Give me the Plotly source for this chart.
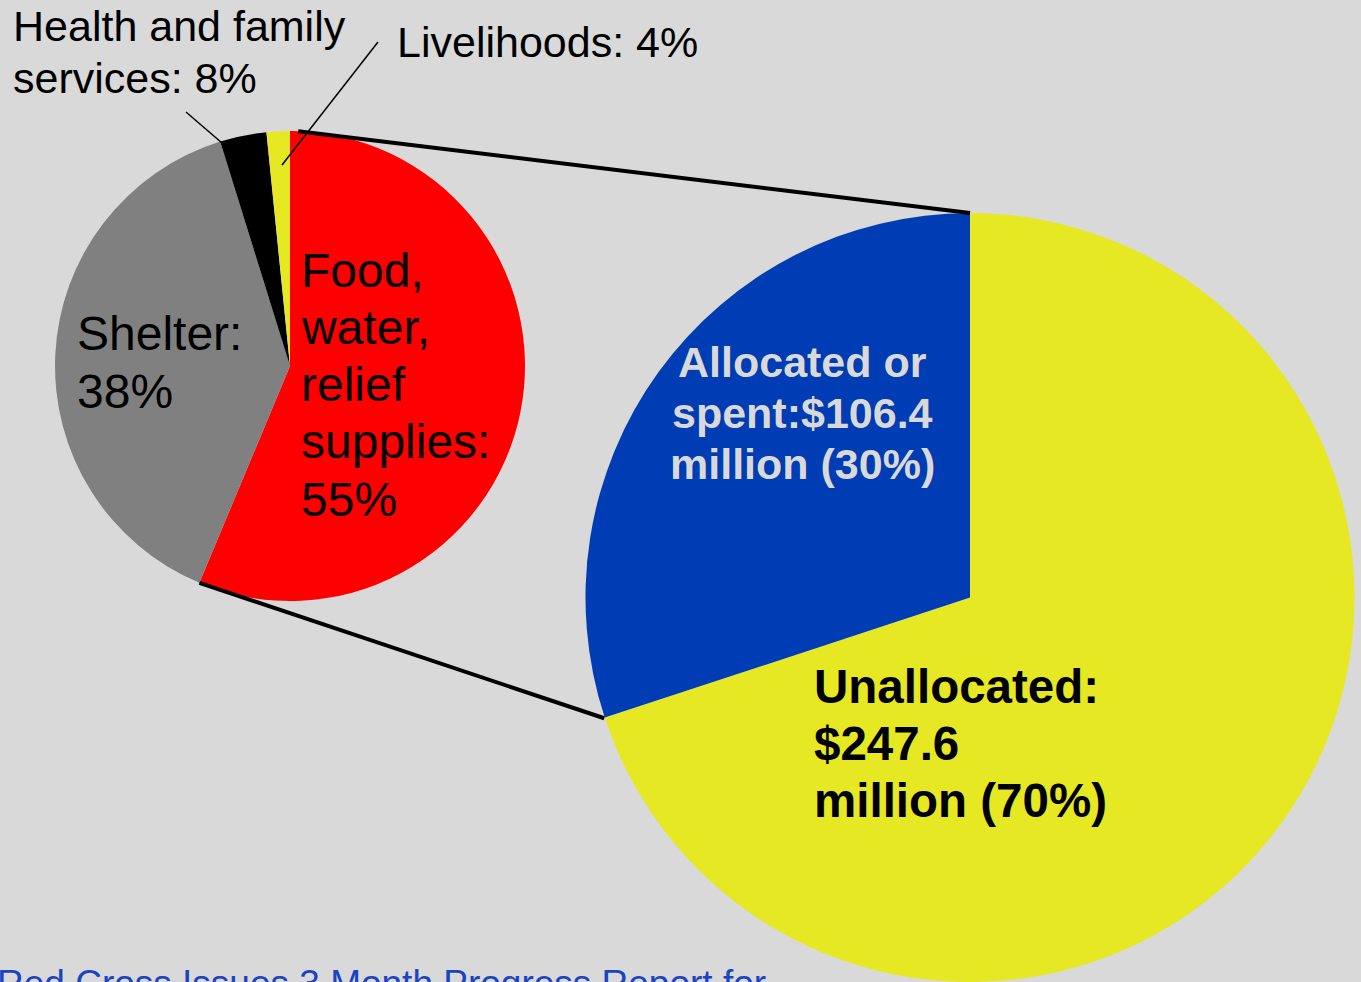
import math
import plotly.graph_objects as go

# ---------------- data ----------------
small_labels = ["Food, water, relief supplies", "Shelter", "Health and family services", "Livelihoods"]
small_values = [56.3, 38.9, 3.2, 1.6]          # slice sizes as drawn
small_label_pct = [55, 38, 8, 4]                # percentages printed in labels
small_colors = ["#ff0000", "#808080", "#000000", "#e5e822"]

big_labels = ["Unallocated", "Allocated or spent"]
big_values = [247.6, 106.4]                     # $ million
big_label_pct = [70, 30]
big_colors = ["#e5e822", "#003cb3"]

food_lines = ["Food,", "water,", "relief", "supplies:", f"{small_label_pct[0]}%"]
shelter_lines = ["Shelter:", f"{small_label_pct[1]}%"]
health_lines = ["Health and family", f"services: {small_label_pct[2]}%"]
liveli_lines = [f"Livelihoods: {small_label_pct[3]}%"]
alloc_lines = ["Allocated or", f"spent:${big_values[1]}", f"million ({big_label_pct[1]}%)"]
unalloc_lines = ["Unallocated:", f"${big_values[0]}", f"million ({big_label_pct[0]}%)"]
footer_text = "Red Cross Issues 3 Month Progress Report for"

# ---------------- layout helpers ----------------
W, H = 1361, 982
FONT = "Liberation Sans, Arial, sans-serif"


def px(x):
    return x / W


def py(y):
    return 1 - y / H


# pie geometry (pixels)
s_cx, s_cy, s_r = 290, 366, 235
b_cx, b_cy, b_r = 970, 598, 385

fig = go.Figure()
fig.add_trace(go.Pie(
    labels=small_labels, values=small_values, sort=False, direction="clockwise",
    rotation=0, marker=dict(colors=small_colors, line=dict(width=0)),
    textinfo="none", hoverinfo="label+percent", showlegend=False,
    domain=dict(x=[px(s_cx - s_r), px(s_cx + s_r)], y=[py(s_cy + s_r), py(s_cy - s_r)]),
))
fig.add_trace(go.Pie(
    labels=big_labels, values=big_values, sort=False, direction="clockwise",
    rotation=0, marker=dict(colors=big_colors, line=dict(width=0)),
    textinfo="none", hoverinfo="label+value+percent", showlegend=False,
    domain=dict(x=[px(b_cx - b_r), px(b_cx + b_r)], y=[0, py(b_cy - b_r)]),
))


def point(cx, cy, r, deg):
    a = math.radians(deg)
    return cx + r * math.sin(a), cy - r * math.cos(a)


# connector lines derived from slice angles
s_end = 360 * small_values[0] / sum(small_values)
b_end = 360 * big_values[0] / sum(big_values)
p1 = point(s_cx, s_cy, s_r, 2)
p2 = point(b_cx, b_cy, b_r, 0)
p3 = point(s_cx, s_cy, s_r, s_end)
p4 = point(b_cx, b_cy, b_r, b_end)

shapes = []
for a, b in [(p1, p2), (p3, p4)]:
    shapes.append(dict(type="line", xref="paper", yref="paper",
                       x0=px(a[0]), y0=py(a[1]), x1=px(b[0]), y1=py(b[1]),
                       line=dict(color="black", width=4)))
# leader lines
for (x0, y0, x1, y1) in [(186, 112, 222, 143), (378, 42, 282, 165)]:
    shapes.append(dict(type="line", xref="paper", yref="paper",
                       x0=px(x0), y0=py(y0), x1=px(x1), y1=py(y1),
                       line=dict(color="black", width=1.5)))

annotations = []


def add_lines(lines, x, y0, pitch, size, color="black", bold=False, anchor="left"):
    for i, t in enumerate(lines):
        txt = f"<b>{t}</b>" if bold else t
        annotations.append(dict(
            text=txt, xref="paper", yref="paper", x=px(x), y=py(y0 + i * pitch),
            xanchor=anchor, yanchor="middle", showarrow=False,
            font=dict(family=FONT, size=size, color=color)))


add_lines(food_lines, 299, 270, 57.3, 48)
add_lines(shelter_lines, 75, 334, 57.5, 48)
add_lines(health_lines, 11, 26, 52, 43)
add_lines(liveli_lines, 395, 42, 52, 43)
add_lines(alloc_lines, 802, 362, 51, 43, color="#d9d9d9", bold=True, anchor="center")
add_lines(unalloc_lines, 812, 686, 57, 47.5, bold=True)
add_lines([footer_text], -5, 984, 40, 37, color="#1a44c0")

fig.update_layout(
    width=W, height=H,
    margin=dict(l=0, r=0, t=0, b=0),
    paper_bgcolor="#d9d9d9", plot_bgcolor="#d9d9d9",
    shapes=shapes, annotations=annotations,
    showlegend=False,
)

fig.write_html("out.html",
               config={"displayModeBar": False},
               post_script="document.body.style.margin='0';document.body.style.overflow='hidden';")
